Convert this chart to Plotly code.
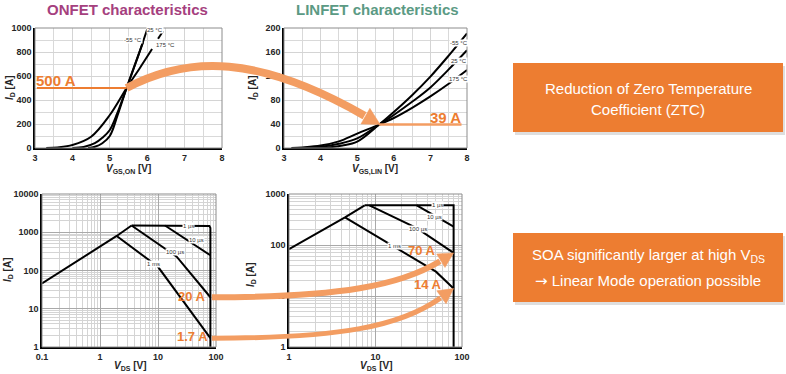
import math
import plotly.graph_objects as go

W, H = 786, 374

# ---------------- data ----------------
# ONFET transfer characteristics, I_D [A] vs V_GS,ON [V]
on_m55_v = [4.42, 4.6, 4.8, 5.0, 5.2, 5.45, 5.7, 5.89]
on_m55_i = [0, 10, 40, 100, 265, 500, 720, 883]
on_25_v = [4.0, 4.3, 4.6, 4.8, 5.0, 5.2, 5.45, 5.75, 6.0]
on_25_i = [0, 8, 40, 85, 150, 290, 500, 760, 990]
on_175_v = [3.3, 3.6, 4.0, 4.5, 5.0, 5.45, 5.8, 6.13]
on_175_i = [0, 5, 25, 94, 275, 500, 665, 825]
on_175_ext_v = [6.29, 6.48]
on_175_ext_i = [910, 1000]
on_ztc_v, on_ztc_i = 5.45, 500

# LINFET transfer characteristics, I_D [A] vs V_GS,LIN [V]
lin_m55_v = [3.8, 4.2, 4.6, 5.0, 5.6, 6.0, 6.5, 7.0, 7.5, 8.0]
lin_m55_i = [0, 1, 4, 10.5, 39, 60, 88, 119, 154, 191]
lin_25_v = [3.5, 4.0, 4.5, 5.0, 5.6, 6.0, 6.5, 7.0, 7.5, 8.0]
lin_25_i = [0, 2, 7, 16, 39, 55, 77, 101, 131, 163]
lin_175_v = [3.2, 3.5, 4.0, 4.5, 5.0, 5.6, 6.0, 6.5, 7.0, 7.5, 8.0]
lin_175_i = [0, 1, 4, 11, 24, 39, 50, 67, 86, 107, 130]
lin_ztc_v, lin_ztc_i, lin_ztc_end_v = 5.6, 39, 7.85

# ONFET SOA, I_D [A] vs V_DS [V]
soa_on_ramp_v = [0.1, 1.94, 3.5]
soa_on_ramp_i = [46, 800, 1500]
soa_on_1us_v = [3.5, 70, 77, 80, 80]
soa_on_1us_i = [1500, 1500, 1460, 1300, 1]
soa_on_10us_v = [13.2, 80]
soa_on_10us_i = [1500, 250]
soa_on_100us_v = [3.5, 21, 80]
soa_on_100us_i = [1500, 230, 20]
soa_on_1ms_v = [1.94, 10, 80]
soa_on_1ms_i = [800, 125, 1.7]

# LINFET SOA, I_D [A] vs V_DS [V]
soa_lin_ramp_v = [1, 4.44, 7.5]
soa_lin_ramp_i = [83, 348, 600]
soa_lin_1us_v = [7.5, 80, 80]
soa_lin_1us_i = [600, 600, 1]
soa_lin_10us_v = [30, 80]
soa_lin_10us_i = [600, 229]
soa_lin_100us_v = [8.5, 30, 80]
soa_lin_100us_i = [600, 215, 70]
soa_lin_1ms_v = [4.44, 50, 80]
soa_lin_1ms_i = [348, 30, 14]

soa_on_xtick_vals = [0.1, 1, 10, 100]
soa_on_xtick_text = ["0.1", "1", "10", "100"]
soa_on_ytick_vals = [1, 10, 100, 1000, 10000]
soa_on_ytick_text = ["1", "10", "100", "1000", "10000"]
soa_lin_xtick_vals = [1, 10, 100]
soa_lin_xtick_text = ["1", "10", "100"]
soa_lin_ytick_vals = [1, 10, 100, 1000]
soa_lin_ytick_text = ["1", "10", "100", "1000"]

# ---------------- geometry ----------------
ON_FRAME = (35, 222, 28, 148)      # left, right, top, bottom (px)
LIN_FRAME = (284, 467, 28, 148)
SOA_ON_FRAME = (42, 216, 194, 347)
SOA_LIN_FRAME = (289, 462, 194, 347)
ON_XR, ON_YR = [3, 8], [0, 1000]
LIN_XR, LIN_YR = [3, 8], [0, 200]
SOA_ON_XR, SOA_ON_YR = [-1, 2], [0, 4]
SOA_LIN_XR, SOA_LIN_YR = [0, 2], [0, 3]

ORANGE = "#ED7D31"
ARROW = "#F39D62"
FONT = "Arial, Liberation Sans, sans-serif"


def dom(frame):
    l, r, t, b = frame
    return [l / W, r / W], [1 - b / H, 1 - t / H]


def lin_px(v, rng, p0, p1):
    return p0 + (v - rng[0]) / (rng[1] - rng[0]) * (p1 - p0)


def data_px(frame, xr, yr, xlog, ylog, x, y):
    l, r, t, b = frame
    xv = math.log10(x) if xlog else x
    yv = math.log10(y) if ylog else y
    return lin_px(xv, xr, l, r), lin_px(yv, yr, b, t)


def P(pt):
    return f"{pt[0] / W:.5f},{1 - pt[1] / H:.5f}"


fig = go.Figure()


def curve(x, y, ax, spline=False, dash=None):
    line = dict(color="black", width=2, shape="spline" if spline else "linear")
    if spline:
        line["smoothing"] = 1.0
    if dash:
        line["dash"] = dash
    fig.add_trace(go.Scatter(
        x=x, y=y, mode="lines", xaxis="x" + ax, yaxis="y" + ax,
        line=line, showlegend=False, hoverinfo="skip"))


curve(on_175_v, on_175_i, "", True)
curve(on_175_ext_v, on_175_ext_i, "", False, "dash")
curve(on_25_v, on_25_i, "", True)
curve(on_m55_v, on_m55_i, "", True)
curve(lin_175_v, lin_175_i, "2", True)
curve(lin_25_v, lin_25_i, "2", True)
curve(lin_m55_v, lin_m55_i, "2", True)
for xs, ys in [(soa_on_ramp_v, soa_on_ramp_i), (soa_on_1us_v, soa_on_1us_i),
               (soa_on_10us_v, soa_on_10us_i), (soa_on_100us_v, soa_on_100us_i),
               (soa_on_1ms_v, soa_on_1ms_i)]:
    curve(xs, ys, "3")
for xs, ys in [(soa_lin_ramp_v, soa_lin_ramp_i), (soa_lin_1us_v, soa_lin_1us_i),
               (soa_lin_10us_v, soa_lin_10us_i), (soa_lin_100us_v, soa_lin_100us_i),
               (soa_lin_1ms_v, soa_lin_1ms_i)]:
    curve(xs, ys, "4")

tickfont = dict(family=FONT, size=9, color="#262626", weight="bold")


def lin_axis(frame, rng, dtick, minor, is_x, anchor):
    d = dom(frame)
    return dict(domain=d[0] if is_x else d[1], range=rng, dtick=dtick, anchor=anchor,
                automargin=False,
                showgrid=True, gridcolor="#d4d4d4", gridwidth=1.2, zeroline=False,
                showline=True, linecolor="black", linewidth=1.5, ticks="",
                tickfont=tickfont, fixedrange=True,
                minor=dict(dtick=minor, showgrid=True, gridcolor="#d9d9d9", gridwidth=1.2))


def log_axis(frame, rng, vals, text, is_x, anchor):
    d = dom(frame)
    return dict(domain=d[0] if is_x else d[1], type="log", range=rng, anchor=anchor,
                automargin=False, tickvals=vals, ticktext=text,
                showgrid=True, gridcolor="#a9a9a9", gridwidth=1, zeroline=False,
                showline=True, linecolor="black", linewidth=1.5, ticks="",
                tickfont=tickfont, fixedrange=True,
                minor=dict(dtick="D1", showgrid=True, gridcolor="#d4d4d4", gridwidth=1))


shapes = []
annotations = []

# plot-area frames
for ax in ["", "2", "3", "4"]:
    shapes.append(dict(type="rect", xref=f"x{ax} domain", yref=f"y{ax} domain",
                       x0=0, x1=1, y0=0, y1=1, line=dict(color="#8c8c8c", width=1),
                       layer="above"))

# horizontal ZTC markers
shapes.append(dict(type="line", xref="x", yref="y", x0=ON_XR[0] + 0.05, x1=on_ztc_v,
                   y0=on_ztc_i, y1=on_ztc_i, line=dict(color=ORANGE, width=2), layer="above"))
shapes.append(dict(type="line", xref="x2", yref="y2", x0=lin_ztc_v, x1=lin_ztc_end_v,
                   y0=lin_ztc_i, y1=lin_ztc_i, line=dict(color=ARROW, width=2.5), layer="above"))


def arrow(p0, c1, c2, tip, width, head_len, head_half):
    ux, uy = tip[0] - c2[0], tip[1] - c2[1]
    n = math.hypot(ux, uy)
    ux, uy = ux / n, uy / n
    base = (tip[0] - head_len * ux, tip[1] - head_len * uy)
    shapes.append(dict(type="path", xref="paper", yref="paper",
                       path=f"M {P(p0)} C {P(c1)} {P(c2)} {P(base)}",
                       line=dict(color=ARROW, width=width), layer="above"))
    b1 = (base[0] - head_half * uy + ux, base[1] + head_half * ux + uy)
    b2 = (base[0] + head_half * uy + ux, base[1] - head_half * ux + uy)
    shapes.append(dict(type="path", xref="paper", yref="paper",
                       path=f"M {P(tip)} L {P(b1)} L {P(b2)} Z",
                       fillcolor=ARROW, line=dict(color=ARROW, width=0.5), layer="above"))


# ZTC arrow: ONFET -> LINFET
s = data_px(ON_FRAME, ON_XR, ON_YR, False, False, on_ztc_v, on_ztc_i)
t = data_px(LIN_FRAME, LIN_XR, LIN_YR, False, False, lin_ztc_v, lin_ztc_i)
arrow(s, (s[0] + 62, s[1] - 33), (s[0] + 132, s[1] - 33), (t[0] + 1, t[1]), 8, 18, 9)

# SOA arrows: ONFET 100 us -> LINFET 100 us; ONFET 1 ms -> LINFET 1 ms
s = data_px(SOA_ON_FRAME, SOA_ON_XR, SOA_ON_YR, True, True, soa_on_100us_v[-1], soa_on_100us_i[-1])
t = data_px(SOA_LIN_FRAME, SOA_LIN_XR, SOA_LIN_YR, True, True, soa_lin_100us_v[-1], soa_lin_100us_i[-1])
s = (s[0] + 1.5, s[1])
arrow(s, (s[0] + 129, s[1]), (s[0] + 189, s[1] - 12), t, 6, 16, 8)
s = data_px(SOA_ON_FRAME, SOA_ON_XR, SOA_ON_YR, True, True, soa_on_1ms_v[-1], soa_on_1ms_i[-1])
t = data_px(SOA_LIN_FRAME, SOA_LIN_XR, SOA_LIN_YR, True, True, soa_lin_1ms_v[-1], soa_lin_1ms_i[-1])
s = (s[0] + 1.5, s[1])
arrow(s, (s[0] + 129, s[1]), (s[0] + 189, s[1] - 12), t, 5, 16, 8)

# text boxes
for (l, r, tp, b) in [(513, 783, 63, 132), (513, 783, 233, 302)]:
    shapes.append(dict(type="rect", xref="paper", yref="paper",
                       x0=(l + 2) / W, x1=(r + 2) / W, y0=1 - (b + 3) / H, y1=1 - (tp + 3) / H,
                       fillcolor="rgba(0,0,0,0.13)", line=dict(width=0), layer="above"))
    shapes.append(dict(type="rect", xref="paper", yref="paper",
                       x0=l / W, x1=r / W, y0=1 - b / H, y1=1 - tp / H,
                       fillcolor=ORANGE, line=dict(width=0), layer="above"))


def ann_px(text, x, y, size, color, bold=False, angle=0, xanchor="center"):
    annotations.append(dict(text=text, x=x / W, y=1 - y / H, xref="paper", yref="paper",
                            showarrow=False, textangle=angle, xanchor=xanchor, yanchor="middle",
                            font=dict(family=FONT, size=size, color=color,
                                      weight="bold" if bold else "normal")))


ann_px("Reduction of Zero Temperature", 648, 88, 15, "white")
ann_px("Coefficient (ZTC)", 648, 109, 15, "white")
ann_px("SOA significantly larger at high V<sub>DS</sub>", 648, 256, 15, "white")
ann_px("<span style=\"font-family:DejaVu Sans\">\u2192</span> Linear Mode operation possible",
       648, 281, 15, "white")

ann_px("ONFET characteristics", 127, 10, 15, "#A5407E", True)
ann_px("LINFET characteristics", 377, 10, 15, "#5B9A84", True)

ann_px("<i>I</i><sub>D</sub> [A]", 10, 88, 10, "#262626", True, -90)
ann_px("<i>I</i><sub>D</sub> [A]", 253, 88, 10, "#262626", True, -90)
ann_px("<i>I</i><sub>D</sub> [A]", 8, 270, 10, "#262626", True, -90)
ann_px("<i>I</i><sub>D</sub> [A]", 251, 275, 10, "#262626", True, -90)
ann_px("<i>V</i><sub>GS,ON</sub> [V]", 128, 169, 10, "#262626", True)
ann_px("<i>V</i><sub>GS,LIN</sub> [V]", 375, 169, 10, "#262626", True)
ann_px("<i>V</i><sub>DS</sub> [V]", 130, 366, 10, "#262626", True)
ann_px("<i>V</i><sub>DS</sub> [V]", 376, 366, 10, "#262626", True)

ann_px("500 A", 56, 81, 15, ORANGE, True)
ann_px("39 A", 445, 118, 15, ORANGE, True)
ann_px("20 A", 192, 296, 13, ORANGE, True)
ann_px("1.7 A", 192, 336, 13, ORANGE, True)
ann_px("70 A", 422, 250, 13, ORANGE, True)
ann_px("14 A", 428, 284, 13, ORANGE, True)


def label(text, x, y, ax, log=False):
    annotations.append(dict(text=text, x=math.log10(x) if log else x,
                            y=math.log10(y) if log else y, xref="x" + ax, yref="y" + ax,
                            showarrow=False, bgcolor="white", borderpad=0,
                            font=dict(family=FONT, size=6, color="#333333")))


label("-55 \u00b0C", 5.62, 900, "")
label("25 \u00b0C", 6.21, 985, "")
label("175 \u00b0C", 6.48, 858, "")
label("-55 \u00b0C", 7.78, 175, "2")
label("25 \u00b0C", 7.78, 145, "2")
label("175 \u00b0C", 7.78, 115, "2")
label("1 \u00b5s", 34, 1500, "3", True)
label("10 \u00b5s", 47, 627, "3", True)
label("100 \u00b5s", 19.6, 305, "3", True)
label("1 ms", 8.5, 148, "3", True)
label("1 \u00b5s", 52, 600, "4", True)
label("10 \u00b5s", 48.7, 354, "4", True)
label("100 \u00b5s", 31, 206, "4", True)
label("1 ms", 16.8, 96, "4", True)

fig.update_layout(
    width=W, height=H, autosize=False,
    margin=dict(l=0, r=0, t=0, b=0),
    paper_bgcolor="white", plot_bgcolor="white",
    showlegend=False,
    xaxis=lin_axis(ON_FRAME, ON_XR, 1, 0.5, True, "y"),
    yaxis=lin_axis(ON_FRAME, ON_YR, 200, 100, False, "x"),
    xaxis2=lin_axis(LIN_FRAME, LIN_XR, 1, 0.5, True, "y2"),
    yaxis2=lin_axis(LIN_FRAME, LIN_YR, 40, 20, False, "x2"),
    xaxis3=log_axis(SOA_ON_FRAME, SOA_ON_XR, soa_on_xtick_vals, soa_on_xtick_text, True, "y3"),
    yaxis3=log_axis(SOA_ON_FRAME, SOA_ON_YR, soa_on_ytick_vals, soa_on_ytick_text, False, "x3"),
    xaxis4=log_axis(SOA_LIN_FRAME, SOA_LIN_XR, soa_lin_xtick_vals, soa_lin_xtick_text, True, "y4"),
    yaxis4=log_axis(SOA_LIN_FRAME, SOA_LIN_YR, soa_lin_ytick_vals, soa_lin_ytick_text, False, "x4"),
    shapes=shapes,
    annotations=annotations,
)

fig.write_html("out.html", config={"displayModeBar": False},
               post_script="document.body.style.margin='0';document.body.style.overflow='hidden';")
